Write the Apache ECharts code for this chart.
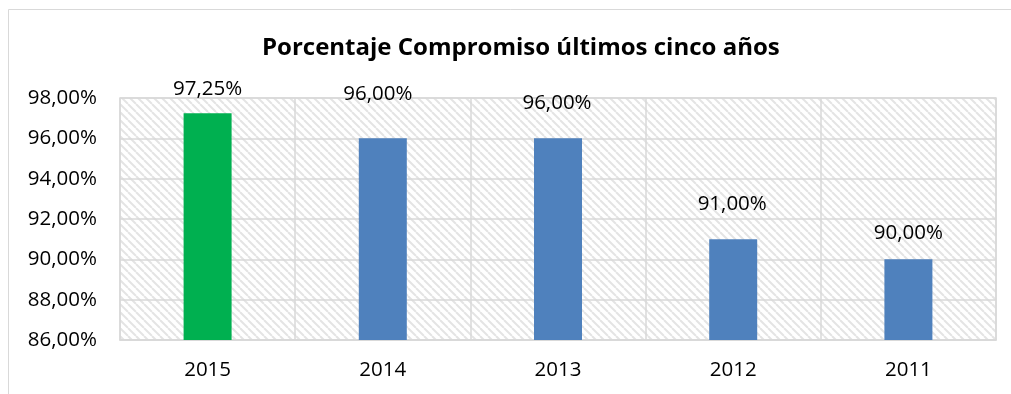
<!DOCTYPE html>
<html>
<head>
<meta charset="utf-8">
<script src="https://cdn.jsdelivr.net/npm/echarts@6/dist/echarts.min.js"></script>
<style>
  html, body { margin: 0; padding: 0; background: #fff; }
  #chart { width: 1011px; height: 394px; }
</style>
</head>
<body>
<div id="chart"></div>
<script>
// Commitment percentage for the last five years
const years = ['2015', '2014', '2013', '2012', '2011'];
const percentages = [97.25, 96.00, 96.00, 91.00, 90.00];
const barColors = ['#00B050', '#4F81BD', '#4F81BD', '#4F81BD', '#4F81BD'];
const yTicks = { min: 86, max: 98, step: 2 };

// Hand-placed label nudges [dx, gap above the bar top]
const labelNudges = [[0, 13], [-5, 34], [-1, 25], [-1, 25], [0, 16]];

const FONT = '"Open Sans", "Liberation Sans", sans-serif';
const fmt = v => v.toFixed(2).replace('.', ',') + '%';

// Diagonal hatch tile for the plot background
function hatchTile() {
  const s = 8;
  const c = document.createElement('canvas');
  c.width = s; c.height = s;
  const g = c.getContext('2d');
  g.fillStyle = '#ffffff';
  g.fillRect(0, 0, s, s);
  g.strokeStyle = '#e4e4e4';
  g.lineWidth = 2;
  for (const o of [-s, 0, s]) {
    g.beginPath();
    g.moveTo(o, 0);
    g.lineTo(o + s, s);
    g.stroke();
  }
  return c;
}

const chart = echarts.init(document.getElementById('chart'), null, { renderer: 'canvas' });

chart.setOption({
  animation: false,
  backgroundColor: '#ffffff',
  title: {
    text: 'Porcentaje Compromiso últimos cinco años',
    left: 257,
    top: 31,
    textStyle: { fontFamily: FONT, fontWeight: 'bold', fontSize: 24, color: '#000' }
  },
  graphic: [{
    type: 'rect',
    shape: { x: 8.5, y: 9.5, width: 1100, height: 500 },
    style: { fill: null, stroke: '#d9d9d9', lineWidth: 1 },
    z: 100,
    silent: true
  }],
  grid: {
    left: 120, right: 15, top: 98, bottom: 54,
    show: true,
    backgroundColor: { image: hatchTile(), repeat: 'repeat' },
    borderColor: '#d9d9d9',
    borderWidth: 1.5
  },
  xAxis: {
    type: 'category',
    data: years,
    boundaryGap: true,
    axisLine: { show: true, lineStyle: { color: '#d9d9d9', width: 1.5 } },
    axisTick: { show: false },
    splitLine: { show: true, lineStyle: { color: '#d9d9d9', width: 1.5 } },
    axisLabel: { fontFamily: FONT, fontSize: 20.5, color: '#000', margin: 20 }
  },
  yAxis: {
    type: 'value',
    min: yTicks.min,
    max: yTicks.max,
    interval: yTicks.step,
    axisLine: { show: false },
    axisTick: { show: false },
    splitLine: { show: true, lineStyle: { color: '#d9d9d9', width: 1.5 } },
    axisLabel: { fontFamily: FONT, fontSize: 20.5, color: '#000', margin: 23, formatter: fmt }
  },
  series: [{
    type: 'bar',
    barWidth: 48,
    data: percentages.map((v, i) => ({
      value: v,
      itemStyle: { color: barColors[i] },
      label: {
        show: true,
        position: 'top',
        distance: labelNudges[i][1],
        offset: [labelNudges[i][0], 0],
        formatter: p => fmt(p.value),
        fontFamily: FONT,
        fontSize: 20.5,
        color: '#000'
      }
    }))
  }]
});
</script>
</body>
</html>
